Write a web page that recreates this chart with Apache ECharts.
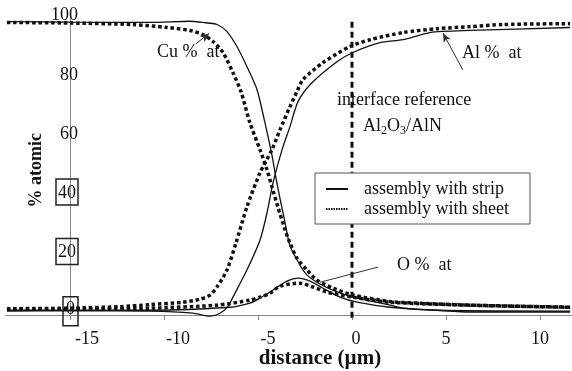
<!DOCTYPE html>
<html>
<head>
<meta charset="utf-8">
<script src="https://cdn.jsdelivr.net/npm/echarts@6/dist/echarts.min.js"></script>
<style>html,body{margin:0;padding:0;background:#fff}#c{width:572px;height:371px}</style>
</head>
<body>
<div id="c"></div>
<script>
// ---- data (distance in µm, % atomic) ----
const cuStripX = [-18.35,-15.0,-10.74,-8.62,-7.93,-7.18,-6.65,-6.12,-5.59,-5.05,-4.63,-4.26,-4.05,-3.85,-3.6,-3.3,-2.77,-2.39,-1.70,-0.90,0.05,2.02,2.71,4.52,6.28,11.6];
const cuStripY = [97.3,97.1,97.0,97.4,97.0,96.3,93.9,88.9,82.2,74.4,63.3,52.5,45.0,38.5,31.0,22.0,15.5,12.1,9.1,6.7,4.7,2.0,1.0,0.3,-0.3,-0.3];

const cuSheetX = [-18.35,-15.0,-11.65,-9.84,-8.62,-7.93,-7.39,-6.86,-6.33,-5.90,-5.43,-4.89,-4.52,-4.26,-3.94,-3.56,-3.30,-2.93,-2.39,-1.86,-1.01,0.05,2.02,2.71,6.28,11.6];
const cuSheetY = [97.0,96.8,96.3,95.3,94.3,92.9,90.6,86.9,80.1,73.7,63.3,54.2,47.5,41.8,35.0,27.3,22.9,17.8,13.8,10.4,7.7,5.4,3.2,2.9,2.0,1.3];

const alStripX = [-18.35,-15,-10.74,-8.46,-7.55,-7.02,-6.6,-6.33,-5.59,-4.89,-4.52,-4.20,-3.72,-3.30,-2.87,-2.18,-0.80,0.05,1.49,2.71,4.15,6.28,11.6];
const alStripY = [0,0.2,0,-0.7,-1.7,-0.7,1.5,4.7,13.8,23.9,33.0,43.1,54.2,62.0,70.4,76.4,83.8,86.9,90.2,91.2,93.6,94.3,95.3];

const alSheetX = [-18.35,-15.0,-12.34,-10.74,-8.99,-8.09,-7.55,-7.18,-6.65,-6.17,-5.59,-4.89,-4.26,-3.83,-3.30,-2.93,-2.61,-1.54,-0.11,0.96,2.71,4.52,6.28,8.03,11.6];
const alSheetY = [0.8,1.0,1.5,2.2,3.0,4.0,5.4,8.1,13.8,22.9,35.0,46.5,54.2,60.9,68.7,73.7,77.8,83.5,88.9,91.2,93.6,94.9,95.6,96.3,96.6];

const oStripX = [-18.35,-10.74,-6.49,-5.43,-4.89,-4.20,-3.46,-2.87,-2.23,-1.54,-0.64,0.27,2.02,4.52,11.6];
const oStripY = [0.3,0.3,1.3,2.7,4.4,7.1,10.1,11.1,10.1,7.7,4.7,3.0,1.3,0.3,0];

const oSheetX = [-18.35,-13.4,-10.74,-7.18,-5.43,-4.89,-4.36,-3.83,-2.77,-2.07,-1.33,0.05,2.02,6.28,11.6];
const oSheetY = [0.7,0.7,1.0,2.0,3.7,4.7,6.0,8.4,9.4,8.1,6.4,4.7,3.0,2.0,1.3];

const xTicks = [-15,-10,-5,0,5,10];
const yTicks = [0,20,40,60,80,100];
const boxedY = [0,20,40];

// interface reference line (x = 0)
const interfaceX = [0, 0];
const interfaceY = [97.2, -3.0];

// annotations
const annoTexts = ['Cu %  at','Al %  at','O %  at','interface reference'];
const annoTextX = [-10.37, 5.85, 2.39, -0.80];
const annoTextY = [87.0, 86.7, 15.5, 70.9];
// leader lines
const leaderFromX = [-8.3, 5.9, 1.38];
const leaderFromY = [89.8, 81.0, 14.8];
const leaderToX = [-7.6, 4.84, -1.70];
const leaderToY = [93.3, 93.4, 9.7];
const leaderArrow = [true, true, false];
const materialLabelX = 0.59, materialLabelY = 62.2;

const SERIF = 'Liberation Serif';
const INK = '#111';
const FS = 18;

function pairs(xs, ys){ return xs.map((x,i)=>[x, ys[i]]); }

const solid = {color: INK, width: 1.3, type: 'solid'};
const dotted = {color: INK, width: 3.5, type: [3.5, 2.8], cap: 'butt'};

function mkSeries(name, xs, ys, style){
  return {
    name, type: 'line', data: pairs(xs, ys), symbol: 'none', smooth: 0.25,
    clip: false, lineStyle: style, itemStyle: {color: INK}, silent: true, z: 3
  };
}

const series = [
  mkSeries('assembly with strip', cuStripX, cuStripY, solid),
  mkSeries('assembly with strip', alStripX, alStripY, solid),
  mkSeries('assembly with strip', oStripX, oStripY, solid),
  mkSeries('assembly with sheet', cuSheetX, cuSheetY, dotted),
  mkSeries('assembly with sheet', alSheetX, alSheetY, dotted),
  mkSeries('assembly with sheet', oSheetX, oSheetY, dotted),
  {
    name: 'interface', type: 'line', data: pairs(interfaceX, interfaceY), symbol: 'none',
    clip: false, silent: true, lineStyle: {color: INK, width: 3, type: [6, 4], cap: 'butt'}, z: 2
  }
];

// leader lines
series[0].markLine = {
  silent: true, symbol: 'none', animation: false,
  label: {show: false},
  data: leaderFromX.map((fx,i)=>[
    {coord:[fx, leaderFromY[i]], symbol:'none', lineStyle:{color:'#333', width:1, type:'solid'}},
    {coord:[leaderToX[i], leaderToY[i]], symbol: leaderArrow[i] ? 'arrow' : 'none', symbolSize: [6,9]}
  ])
};

// annotation texts
series[1].markPoint = {
  silent: true, animation: false, symbol: 'circle', symbolSize: 0,
  data: annoTexts.map((t,i)=>({
    coord:[annoTextX[i], annoTextY[i]],
    label:{show:true, formatter: t, position:'inside', align:'left', verticalAlign:'middle',
      fontFamily: SERIF, fontSize: FS, color: INK}
  })).concat([{
    coord:[materialLabelX, materialLabelY],
    label:{show:true, position:'inside', align:'left', verticalAlign:'middle',
      formatter:'{a|Al}{s|2}{a|O}{s|3}{a|/AlN}',
      rich:{
        a:{fontFamily:SERIF, fontSize:FS, color:INK, lineHeight:22, verticalAlign:'middle'},
        s:{fontFamily:SERIF, fontSize:12, color:INK, lineHeight:22, verticalAlign:'bottom', padding:[10,0,0,0]}
      }}
  }])
};

const xRich = {
  n15:{fontFamily:SERIF, fontSize:FS, color:INK, padding:[0,0,0,34]},
  n10:{fontFamily:SERIF, fontSize:FS, color:INK, padding:[0,0,0,28]},
  n5:{fontFamily:SERIF, fontSize:FS, color:INK, padding:[0,0,0,20]},
  z:{fontFamily:SERIF, fontSize:FS, color:INK, padding:[0,0,0,8]},
  p:{fontFamily:SERIF, fontSize:FS, color:INK}
};

const chart = echarts.init(document.getElementById('c'), null, {renderer:'canvas'});
chart.setOption({
  animation: false,
  backgroundColor: '#fff',
  grid: {left: 6, right: 0, top: 13.5, bottom: 56, containLabel: false, outerBoundsMode: 'none'},
  legend: {
    orient: 'vertical', left: 315, top: 173,
    padding: [6, 21, 5, 10],
    backgroundColor: '#fff', borderColor: '#555', borderWidth: 1,
    itemWidth: 22, itemHeight: 10, itemGap: 0,
    itemStyle: {color: 'rgba(0,0,0,0)', borderColor: 'rgba(0,0,0,0)', borderWidth: 0, opacity: 0},
    textStyle: {fontFamily: SERIF, fontSize: FS, color: INK, lineHeight: 20, padding:[0,0,0,11]},
    data: [
      {name:'assembly with strip', lineStyle:{width:2, type:'solid', color:INK}},
      {name:'assembly with sheet', lineStyle:{width:2, type:[1.5,1], color:INK}}
    ],
    selectedMode: false, z: 10
  },
  xAxis: {
    type: 'value', min: -18.4, max: 11.7,
    name: 'distance (µm)', nameLocation: 'middle', nameGap: 33, nameMoveOverlap: false,
    nameTextStyle: {fontFamily: SERIF, fontSize: 21, fontWeight: 'bold', color: INK, padding:[0,0,0,62]},
    axisLine: {show: true, onZero: false, lineStyle: {color: '#888', width: 1}},
    axisTick: {show: true, customValues: xTicks, length: 5, lineStyle: {color: '#888'}},
    splitLine: {show: false},
    axisLabel: {
      customValues: xTicks, margin: 15,
      formatter: v => {
        const k = v===-15?'n15':v===-10?'n10':v===-5?'n5':v===0?'z':'p';
        return '{' + k + '|' + v + '}';
      },
      rich: xRich
    }
  },
  yAxis: {
    type: 'value', min: -1.3, max: 100, offset: -64,
    name: '% atomic', nameLocation: 'middle', nameRotate: 90, nameGap: 25, nameMoveOverlap: false,
    nameTextStyle: {fontFamily: SERIF, fontSize: 18, fontWeight: 'bold', color: INK, padding:[0,12,0,0]},
    axisLine: {show: true, onZero: false, lineStyle: {color: '#888', width: 1}},
    axisTick: {show: false},
    splitLine: {show: false},
    axisLabel: {
      customValues: yTicks, margin: -8,
      formatter: v => boxedY.indexOf(v) >= 0 ? (v===0 ? '{c|0}' : '{b|' + v + '}') : '{t|' + v + '}',
      rich: {
        t:{fontFamily:SERIF, fontSize:FS, color:INK, padding:[4,0,0,0]},
        b:{fontFamily:SERIF, fontSize:FS, color:INK, borderColor:'#222', borderWidth:1.5, padding:[5,2,3,2]},
        c:{fontFamily:SERIF, fontSize:FS, color:INK, borderColor:'#222', borderWidth:1.5, padding:[4,3,7,3]}
      }
    }
  },
  series
});
</script>
</body>
</html>
